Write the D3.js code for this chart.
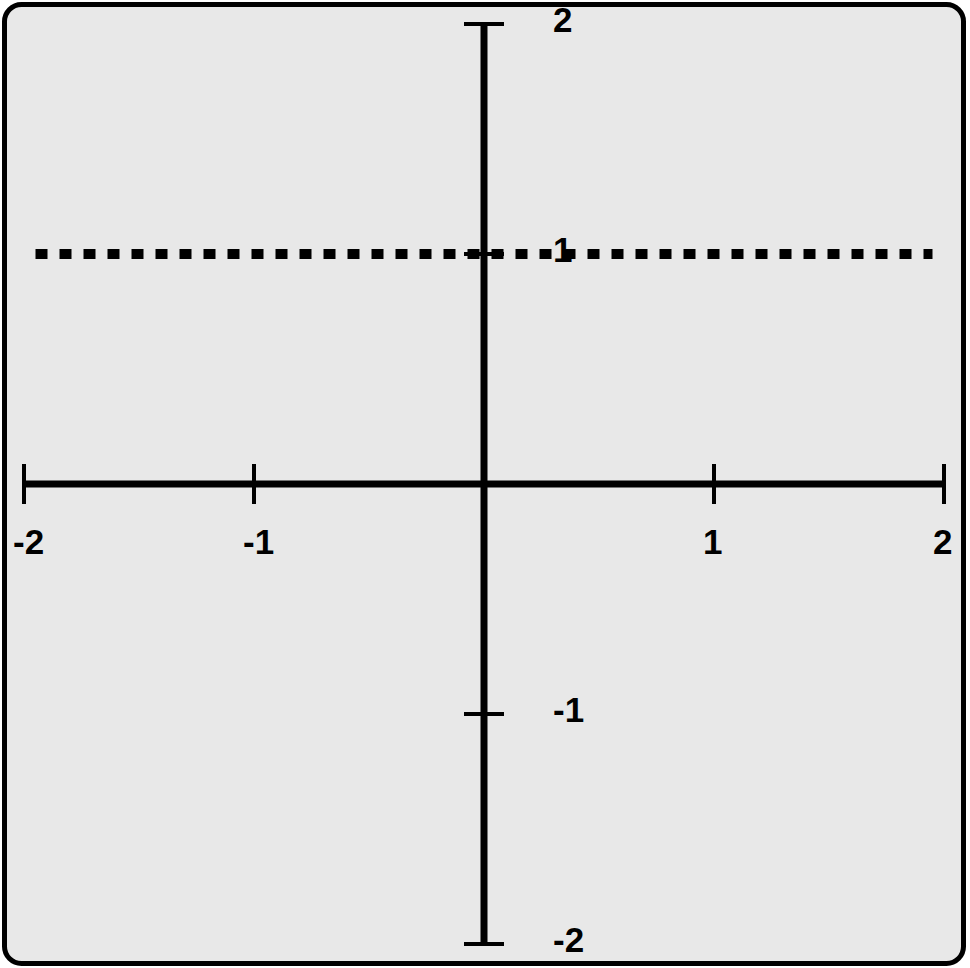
<!DOCTYPE html>
<html>
<head>
<meta charset="utf-8">
<script src="https://cdn.jsdelivr.net/npm/d3@7"></script>
<style>
html,body{margin:0;padding:0;background:#fff;}
svg{display:block;}
</style>
</head>
<body>
<script>
// Data
const xTicks = [-2, -1, 1, 2];
const yTicks = [2, 1, -1, -2];
const xTickLabels = ["-2", "-1", "1", "2"];
const yTickLabels = ["2", "1", "-1", "-2"];
const lineX = [-1.95, 1.95];
const lineY = [1, 1];
const domain = [-2, 2];

const W = 970, H = 968;
const svg = d3.select("body").append("svg").attr("width", W).attr("height", H);

svg.append("rect")
  .attr("x", 4.5).attr("y", 4.5)
  .attr("width", 959).attr("height", 959)
  .attr("rx", 17).attr("ry", 17)
  .attr("fill", "#e8e8e8").attr("stroke", "#000").attr("stroke-width", 5);

const x = d3.scaleLinear().domain(domain).range([24, 944]);
const y = d3.scaleLinear().domain(domain).range([944, 24]);

const font = "'Liberation Sans', Arial, Helvetica, sans-serif";

// dotted line
const pts = lineX.map((v, i) => [v, lineY[i]]);
svg.append("path")
  .attr("d", d3.line().x(d => x(d[0])).y(d => y(d[1]))(pts))
  .attr("stroke", "#000").attr("stroke-width", 10)
  .attr("stroke-dasharray", "12,12").attr("fill", "none");

// x axis
const gx = svg.append("g");
gx.append("line")
  .attr("x1", x(domain[0])).attr("x2", x(domain[1]))
  .attr("y1", y(0)).attr("y2", y(0))
  .attr("stroke", "#000").attr("stroke-width", 7);
gx.selectAll(".xt").data(xTicks).enter().append("line")
  .attr("x1", d => x(d)).attr("x2", d => x(d))
  .attr("y1", y(0) - 20).attr("y2", y(0) + 20)
  .attr("stroke", "#000").attr("stroke-width", 4);
gx.selectAll(".xl").data(xTicks).enter().append("text")
  .attr("x", d => x(d) - 11).attr("y", 554)
  .attr("text-anchor", "start")
  .attr("font-family", font).attr("font-weight", "bold").attr("font-size", 35)
  .text((d, i) => xTickLabels[i]);

// y axis
const gy = svg.append("g");
gy.append("line")
  .attr("x1", x(0)).attr("x2", x(0))
  .attr("y1", y(domain[1])).attr("y2", y(domain[0]))
  .attr("stroke", "#000").attr("stroke-width", 7);
gy.selectAll(".yt").data(yTicks).enter().append("line")
  .attr("x1", x(0) - 20).attr("x2", x(0) + 20)
  .attr("y1", d => y(d)).attr("y2", d => y(d))
  .attr("stroke", "#000").attr("stroke-width", 4);
gy.selectAll(".yl").data(yTicks).enter().append("text")
  .attr("x", 553).attr("y", d => y(d) + 8)
  .attr("text-anchor", "start")
  .attr("font-family", font).attr("font-weight", "bold").attr("font-size", 35)
  .text((d, i) => yTickLabels[i]);
</script>
</body>
</html>
